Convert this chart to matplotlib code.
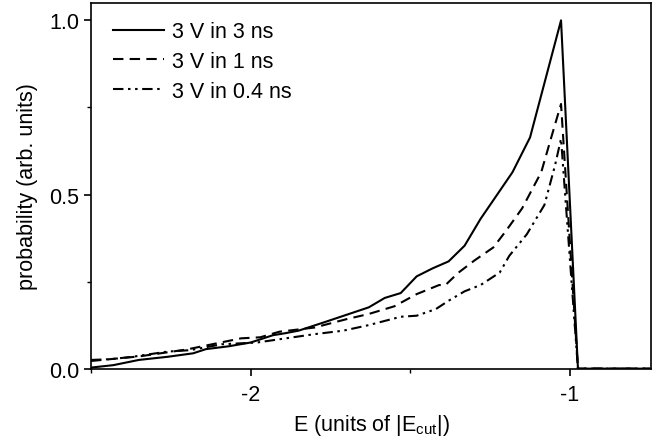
import matplotlib
matplotlib.use("Agg")
import matplotlib.pyplot as plt
from matplotlib.ticker import MultipleLocator

plt.rcParams['font.family'] = ['Liberation Sans', 'DejaVu Sans']
plt.rcParams['mathtext.fontset'] = 'custom'
plt.rcParams['mathtext.rm'] = 'Liberation Sans'

# =========================
# DATA
# =========================
x_3ns = [-2.5, -2.43, -2.35, -2.26, -2.18, -2.14, -2.07, -2.0, -1.93, -1.89,
         -1.85, -1.77, -1.63, -1.58, -1.53, -1.48, -1.43, -1.38, -1.33, -1.28,
         -1.18, -1.125, -1.028, -0.975, -0.75]
y_3ns = [0.003, 0.01, 0.025, 0.034, 0.044, 0.056, 0.064, 0.075, 0.096, 0.102,
         0.109, 0.133, 0.176, 0.203, 0.217, 0.265, 0.288, 0.308, 0.353, 0.43,
         0.564, 0.664, 1.0, 0.0, 0.0]

x_1ns = [-2.5, -2.35, -2.2, -2.03, -1.97, -1.91, -1.8, -1.7, -1.63, -1.55,
         -1.48, -1.41, -1.39, -1.35, -1.3, -1.24, -1.2, -1.15, -1.09, -1.057,
         -1.028, -0.975, -0.75]
y_1ns = [0.022, 0.035, 0.055, 0.087, 0.09, 0.106, 0.118, 0.142, 0.157, 0.179,
         0.214, 0.24, 0.24, 0.275, 0.31, 0.348, 0.396, 0.46, 0.564, 0.669,
         0.76, 0.0, 0.0]

x_04ns = [-2.5, -2.44, -2.37, -2.26, -2.19, -2.09, -1.98, -1.89, -1.8, -1.71,
          -1.63, -1.53, -1.48, -1.42, -1.38, -1.33, -1.28, -1.22, -1.19, -1.135,
          -1.08, -1.047, -1.028, -0.975, -0.75]
y_04ns = [0.025, 0.027, 0.034, 0.049, 0.053, 0.07, 0.075, 0.087, 0.099, 0.109,
          0.125, 0.149, 0.152, 0.171, 0.195, 0.222, 0.24, 0.276, 0.324, 0.386,
          0.47, 0.583, 0.66, 0.0, 0.0]

labels = ["3 V in 3 ns", "3 V in 1 ns", "3 V in 0.4 ns"]

FS = 15.5

fig = plt.figure(figsize=(6.59, 4.39), dpi=100)
ax = fig.add_axes([0.138, 0.158, 0.850, 0.833])

ax.plot(x_3ns, y_3ns, color="black", lw=1.5, label=labels[0])
ax.plot(x_1ns, y_1ns, color="black", lw=1.5, dashes=(5, 3), label=labels[1])
ax.plot(x_04ns, y_04ns, color="black", lw=1.5,
        dashes=(5, 2.2, 1.2, 2.2, 1.2, 2.2), label=labels[2])

ax.set_xlim(-2.5, -0.746)
ax.set_ylim(0, 1.05)
ax.set_xticks([-2, -1])
ax.set_xticklabels(["-2", "-1"])
ax.set_yticks([0.0, 0.5, 1.0])
ax.set_yticklabels(["0.0", "0.5", "1.0"])
ax.xaxis.set_minor_locator(MultipleLocator(0.5))
ax.yaxis.set_minor_locator(MultipleLocator(0.25))
ax.tick_params(which="major", direction="out", length=5, width=1.2,
               labelsize=FS, top=False, right=False)
ax.tick_params(axis="x", which="major", pad=6)
ax.tick_params(which="minor", direction="out", length=3, width=1.0,
               top=False, right=False)
for s in ax.spines.values():
    s.set_linewidth(1.2)

ax.set_xlabel(r"E (units of |E$_{\rm cut}$|)", fontsize=FS, labelpad=5)
ax.set_ylabel("probability (arb. units)", fontsize=FS, labelpad=8)

ax.legend(loc="upper left", frameon=False, fontsize=FS, handlelength=2.4,
          handletextpad=0.35, labelspacing=0.4, borderaxespad=0.2,
          bbox_to_anchor=(0.016, 0.985))

fig.savefig("out.png", dpi=100)
